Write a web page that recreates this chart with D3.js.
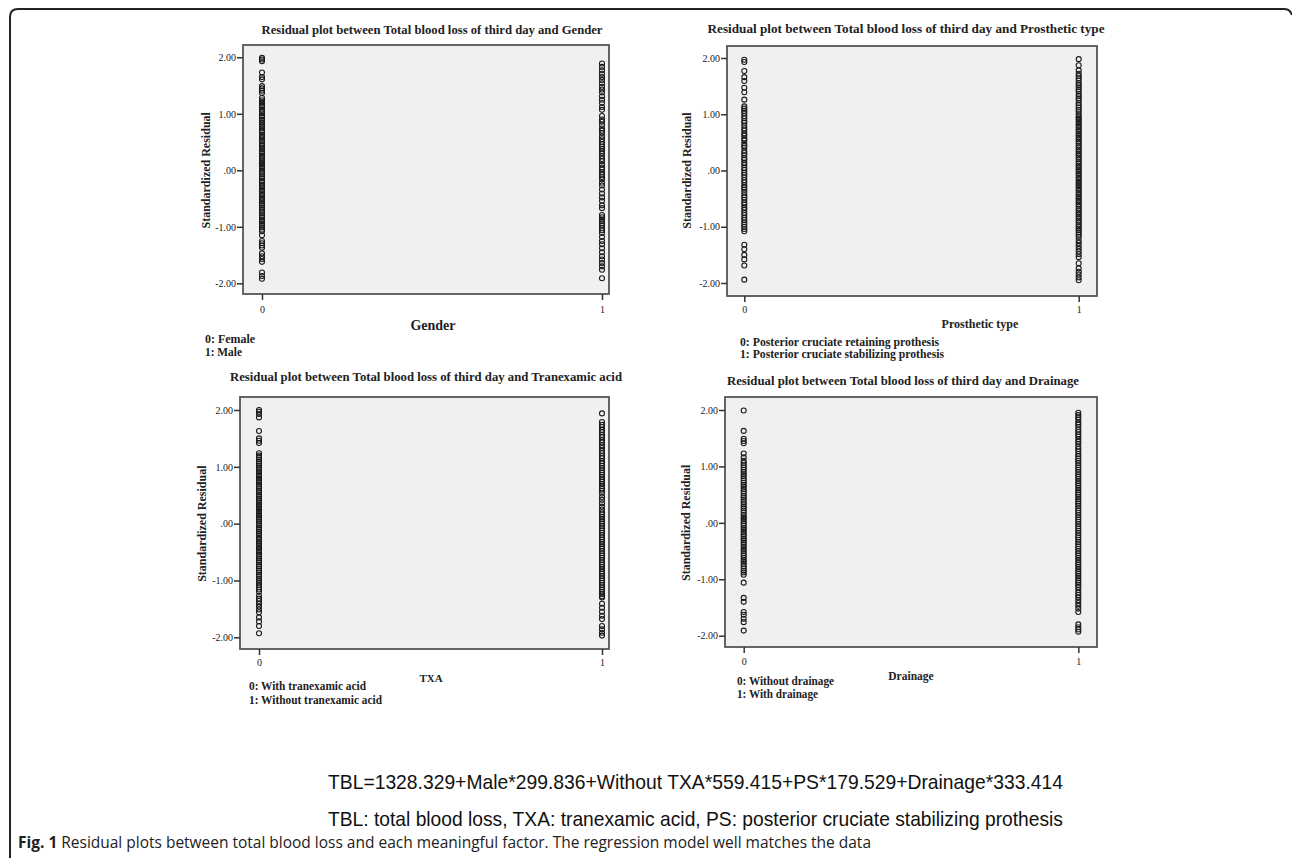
<!DOCTYPE html>
<html>
<head>
<meta charset="utf-8">
<script src="https://cdn.jsdelivr.net/npm/d3@7"></script>
<style>
  body { margin: 0; background: #fff; }
  svg { display: block; }
</style>
</head>
<body>
<svg id="fig" width="1292" height="858"></svg>
<script>
//---------------- data ----------------//

const factors = ["Gender", "Prosthetic type", "TXA", "Drainage"];
const titles = [
  "Residual plot between Total blood loss of third day and Gender",
  "Residual plot between Total blood loss of third day and Prosthetic type",
  "Residual plot between Total blood loss of third day and Tranexamic acid",
  "Residual plot between Total blood loss of third day and Drainage"
];
const legend0 = ["0: Female", "0: Posterior cruciate retaining prothesis", "0: With tranexamic acid", "0: Without drainage"];
const legend1 = ["1: Male", "1: Posterior cruciate stabilizing prothesis", "1: Without tranexamic acid", "1: With drainage"];

const yTicks = [-2, -1, 0, 1, 2];
const yTickLabels = ["-2.00", "-1.00", ".00", "1.00", "2.00"];
const xTicks = [0, 1];
const xTickLabels = ["0", "1"];

// standardized residuals, group 0 / group 1 of each factor
const female = [1.99, 1.96, 1.93, 1.73, 1.65, 1.61, 1.49, 1.45, 1.41, 1.37, 1.28, 1.24, 1.21, 1.18, 1.14, 1.12, 1.07, 1.04, 1.01, 0.97,
  0.95, 0.9, 0.88, 0.84, 0.8, 0.77, 0.74, 0.7, 0.68, 0.63, 0.6, 0.57, 0.53, 0.51, 0.46, 0.43, 0.4, 0.37, 0.33, 0.3, 0.26, 0.24,
  0.2, 0.16, 0.13, 0.1, 0.06, 0.03, -0.01, -0.04, -0.07, -0.11, -0.14, -0.18, -0.2, -0.25, -0.28, -0.31, -0.35, -0.38, -0.42,
  -0.45, -0.49, -0.52, -0.55, -0.59, -0.62, -0.66, -0.7, -0.73, -0.76, -0.8, -0.83, -0.87, -0.9, -0.94, -0.97, -1.01, -1.05,
  -1.08, -1.15, -1.25, -1.29, -1.33, -1.37, -1.47, -1.52, -1.57, -1.62, -1.81, -1.87, -1.92];
const male = [1.89, 1.83, 1.77, 1.71, 1.65, 1.6, 1.54, 1.48, 1.43, 1.38, 1.31, 1.25, 1.19, 1.12, 1.07, 0.96, 0.9, 0.86, 0.8, 0.74,
  0.7, 0.66, 0.6, 0.55, 0.5, 0.46, 0.42, 0.38, 0.34, 0.3, 0.25, 0.2, 0.16, 0.1, 0.05, 0.02, -0.03, -0.08, -0.12, -0.16, -0.22,
  -0.27, -0.34, -0.41, -0.48, -0.54, -0.62, -0.67, -0.79, -0.83, -0.87, -0.9, -0.94, -0.98, -1.02, -1.06, -1.11, -1.18, -1.25,
  -1.31, -1.38, -1.45, -1.52, -1.58, -1.64, -1.7, -1.76, -1.91];

const pcr = [1.97, 1.93, 1.77, 1.66, 1.59, 1.47, 1.39, 1.26, 1.14, 1.1, 1.06, 1.02, 0.97, 0.93, 0.88, 0.85, 0.8, 0.75, 0.71, 0.66,
  0.62, 0.57, 0.54, 0.48, 0.44, 0.41, 0.35, 0.31, 0.27, 0.22, 0.19, 0.14, 0.1, 0.05, 0.01, -0.04, -0.08, -0.12, -0.17, -0.21,
  -0.26, -0.3, -0.34, -0.39, -0.44, -0.48, -0.52, -0.57, -0.61, -0.66, -0.7, -0.75, -0.79, -0.84, -0.88, -0.92, -0.96, -1.0,
  -1.04, -1.08, -1.32, -1.4, -1.5, -1.58, -1.69, -1.94];
const ps = [1.98, 1.87, 1.78, 1.72, 1.68, 1.64, 1.6, 1.55, 1.52, 1.48, 1.44, 1.41, 1.36, 1.32, 1.28, 1.25, 1.2, 1.16, 1.12, 1.08,
  1.05, 1.0, 0.96, 0.93, 0.9, 0.86, 0.83, 0.79, 0.76, 0.72, 0.69, 0.65, 0.62, 0.58, 0.55, 0.51, 0.48, 0.44, 0.41, 0.37, 0.34,
  0.3, 0.27, 0.23, 0.2, 0.16, 0.13, 0.09, 0.06, 0.02, -0.01, -0.05, -0.08, -0.12, -0.15, -0.19, -0.22, -0.26, -0.29, -0.33,
  -0.36, -0.4, -0.43, -0.47, -0.5, -0.54, -0.57, -0.61, -0.64, -0.68, -0.71, -0.75, -0.78, -0.82, -0.85, -0.89, -0.92, -0.96,
  -0.99, -1.03, -1.06, -1.1, -1.14, -1.18, -1.24, -1.29, -1.34, -1.39, -1.44, -1.49, -1.54, -1.65, -1.74, -1.8, -1.85, -1.9, -1.95];

const withTxa = [2.0, 1.97, 1.93, 1.87, 1.63, 1.5, 1.46, 1.42, 1.24, 1.2, 1.17, 1.13, 1.09, 1.06, 1.02, 0.98, 0.95, 0.91, 0.87, 0.84,
  0.8, 0.77, 0.73, 0.69, 0.66, 0.62, 0.58, 0.55, 0.51, 0.48, 0.44, 0.4, 0.37, 0.33, 0.29, 0.26, 0.22, 0.19, 0.15, 0.11, 0.08,
  0.04, 0.0, -0.03, -0.07, -0.1, -0.14, -0.18, -0.21, -0.25, -0.28, -0.32, -0.36, -0.39, -0.43, -0.47, -0.5, -0.54, -0.57, -0.61,
  -0.65, -0.68, -0.72, -0.75, -0.79, -0.83, -0.86, -0.9, -0.93, -0.97, -1.01, -1.04, -1.08, -1.12, -1.16, -1.2, -1.27, -1.32,
  -1.36, -1.41, -1.46, -1.51, -1.56, -1.65, -1.72, -1.8, -1.93];
const withoutTxa = [1.94, 1.79, 1.74, 1.7, 1.65, 1.61, 1.56, 1.52, 1.47, 1.43, 1.38, 1.33, 1.28, 1.24, 1.19, 1.15, 1.1, 1.06, 1.02,
  0.98, 0.94, 0.9, 0.86, 0.82, 0.78, 0.74, 0.7, 0.66, 0.62, 0.58, 0.53, 0.47, 0.42, 0.36, 0.3, 0.25, 0.2, 0.16, 0.12, 0.08, 0.04,
  0.0, -0.04, -0.08, -0.12, -0.16, -0.2, -0.24, -0.28, -0.32, -0.36, -0.4, -0.44, -0.48, -0.52, -0.56, -0.6, -0.64, -0.68, -0.72,
  -0.76, -0.8, -0.84, -0.88, -0.92, -0.96, -1.0, -1.04, -1.08, -1.12, -1.16, -1.2, -1.24, -1.28, -1.3, -1.41, -1.48, -1.55,
  -1.62, -1.68, -1.8, -1.86, -1.92, -1.97];

const noDrain = [1.99, 1.63, 1.49, 1.45, 1.41, 1.23, 1.16, 1.1, 1.06, 1.02, 0.98, 0.94, 0.9, 0.86, 0.83, 0.79, 0.75, 0.71, 0.67, 0.64,
  0.6, 0.56, 0.52, 0.48, 0.45, 0.41, 0.37, 0.33, 0.29, 0.26, 0.22, 0.18, 0.14, 0.1, 0.07, 0.03, -0.01, -0.05, -0.09, -0.12, -0.16,
  -0.2, -0.24, -0.28, -0.31, -0.35, -0.39, -0.43, -0.47, -0.5, -0.54, -0.58, -0.62, -0.66, -0.69, -0.73, -0.77, -0.81, -0.85,
  -0.88, -0.92, -1.06, -1.33, -1.4, -1.58, -1.63, -1.7, -1.76, -1.91];
const withDrain = [1.95, 1.91, 1.87, 1.83, 1.78, 1.74, 1.7, 1.65, 1.61, 1.57, 1.53, 1.48, 1.44, 1.4, 1.35, 1.31, 1.27, 1.22, 1.18,
  1.14, 1.1, 1.06, 1.02, 0.98, 0.94, 0.9, 0.86, 0.82, 0.78, 0.74, 0.7, 0.66, 0.62, 0.58, 0.54, 0.5, 0.46, 0.42, 0.38, 0.34, 0.3,
  0.26, 0.22, 0.18, 0.14, 0.1, 0.06, 0.02, -0.02, -0.06, -0.1, -0.14, -0.18, -0.22, -0.26, -0.3, -0.34, -0.38, -0.42, -0.46, -0.5,
  -0.54, -0.58, -0.62, -0.66, -0.7, -0.74, -0.78, -0.82, -0.86, -0.9, -0.94, -0.98, -1.02, -1.06, -1.1, -1.14, -1.19, -1.24,
  -1.28, -1.32, -1.37, -1.42, -1.47, -1.52, -1.58, -1.8, -1.85, -1.89, -1.93];

const groups = [[female, male], [pcr, ps], [withTxa, withoutTxa], [noDrain, withDrain]];

const equation = "TBL=1328.329+Male*299.836+Without TXA*559.415+PS*179.529+Drainage*333.414";
const abbrev = "TBL: total blood loss, TXA: tranexamic acid, PS: posterior cruciate stabilizing prothesis";
const figLabel = "Fig. 1";
const figText = " Residual plots between total blood loss and each meaningful factor. The regression model well matches the data";

//---------------- layout (pixels) ----------------//

const layout = [
  { box: [243, 45, 609, 294], x: [262, 602], y: [283.3, 57.3], title: [432, 34, 341], yLab: 207,
    tickY: 311, xTitle: [433, 330, 14], leg: [205, 343, 356, 50, 37] },
  { box: [727, 46, 1097, 296], x: [744.3, 1078.7], y: [283, 58], title: [906, 33, 397], yLab: 688,
    tickY: 311, xTitle: [980, 328, 12], leg: [740, 346, 358, 199, 204] },
  { box: [240, 397, 609, 649], x: [259, 602], y: [637.3, 410], title: [426, 381, 392], yLab: 203,
    tickY: 664, xTitle: [431, 682, 11], leg: [249, 690, 704, 117, 133] },
  { box: [725, 397, 1097, 647], x: [743.7, 1078.3], y: [635.7, 410], title: [903, 385, 352], yLab: 687,
    tickY: 663, xTitle: [911, 680, 11.5], leg: [737, 685, 698, 97, 81] }
];

const svg = d3.select("#fig");
const serif = "'Liberation Serif', 'Times New Roman', serif";

// outer frame of the figure (top + left with rounded corners)
svg.append("path")
  .attr("d", "M10,858 L10,17 Q10,9 18,9 L1284,9 Q1290,9 1292,15")
  .attr("fill", "none")
  .attr("stroke", "#222")
  .attr("stroke-width", 2);

const drawPanel = (i) => {
  const L = layout[i];
  const [x0, y0, x1, y1] = L.box;
  const g = svg.append("g");

  const x = d3.scaleLinear().domain(xTicks).range(L.x);
  const y = d3.scaleLinear().domain([-2, 2]).range(L.y);

  g.append("rect")
    .attr("x", x0).attr("y", y0)
    .attr("width", x1 - x0).attr("height", y1 - y0)
    .attr("fill", "#f0f0f0")
    .attr("stroke", "#555")
    .attr("stroke-width", 1.8);

  // y axis
  const ya = g.append("g")
    .attr("transform", `translate(${x0},0)`)
    .call(d3.axisLeft(y).tickValues(yTicks).tickSize(6).tickPadding(1)
      .tickFormat((d, k) => yTickLabels[k]));
  ya.select(".domain").remove();
  ya.selectAll("line").attr("stroke", "#333").attr("stroke-width", 1.5);
  ya.selectAll("text").attr("font-family", serif).attr("font-size", 10).attr("fill", "#222");

  // x axis
  const xa = g.append("g")
    .attr("transform", `translate(0,${y1})`)
    .call(d3.axisBottom(x).tickValues(xTicks).tickSize(6).tickFormat((d, k) => xTickLabels[k]));
  xa.select(".domain").remove();
  xa.selectAll("line").attr("stroke", "#333").attr("stroke-width", 1.5);
  xa.selectAll("text").attr("font-family", serif).attr("font-size", 10).attr("fill", "#222")
    .attr("y", null).attr("dy", null)
    .attr("transform", `translate(0,${L.tickY - y1})`)
    .attr("dominant-baseline", "middle");

  // points
  groups[i].forEach((vals, k) => {
    g.append("g").selectAll("circle")
      .data(vals)
      .join("circle")
      .attr("cx", x(xTicks[k]))
      .attr("cy", d => y(d))
      .attr("r", 2.5)
      .attr("fill", "none")
      .attr("stroke", "#1a1a1a")
      .attr("stroke-width", 1.1);
  });

  // title
  g.append("text")
    .attr("x", L.title[0]).attr("y", L.title[1])
    .attr("text-anchor", "middle")
    .attr("font-family", serif).attr("font-weight", "bold").attr("font-size", 12.5)
    .attr("fill", "#222")
    .attr("textLength", L.title[2]).attr("lengthAdjust", "spacingAndGlyphs")
    .text(titles[i]);

  // y title
  g.append("text")
    .attr("transform", `translate(${L.yLab},${y(0)}) rotate(-90)`)
    .attr("text-anchor", "middle")
    .attr("dominant-baseline", "middle")
    .attr("font-family", serif).attr("font-weight", "bold").attr("font-size", 12)
    .attr("fill", "#222")
    .text("Standardized Residual");

  // x title
  g.append("text")
    .attr("x", L.xTitle[0]).attr("y", L.xTitle[1])
    .attr("text-anchor", "middle")
    .attr("font-family", serif).attr("font-weight", "bold").attr("font-size", L.xTitle[2])
    .attr("fill", "#222")
    .text(factors[i]);

  // code legend
  [legend0[i], legend1[i]].forEach((t, k) => {
    g.append("text")
      .attr("x", L.leg[0]).attr("y", L.leg[1 + k])
      .attr("font-family", serif).attr("font-weight", "bold").attr("font-size", 11.5)
      .attr("fill", "#222")
      .attr("textLength", L.leg[3 + k]).attr("lengthAdjust", "spacingAndGlyphs")
      .text(t);
  });
};

factors.forEach((f, i) => drawPanel(i));

// equation and caption
svg.append("text")
  .attr("x", 328).attr("y", 789)
  .attr("font-family", "'Liberation Sans', Arial, sans-serif").attr("font-size", 21)
  .attr("fill", "#111")
  .attr("textLength", 735).attr("lengthAdjust", "spacingAndGlyphs")
  .text(equation);

svg.append("text")
  .attr("x", 328).attr("y", 826)
  .attr("font-family", "'Liberation Sans', Arial, sans-serif").attr("font-size", 21)
  .attr("fill", "#111")
  .attr("textLength", 735).attr("lengthAdjust", "spacingAndGlyphs")
  .text(abbrev);

const cap = svg.append("text")
  .attr("x", 18).attr("y", 848)
  .attr("font-family", "'Open Sans', 'Noto Sans', sans-serif").attr("font-size", 16)
  .attr("fill", "#222")
  .attr("textLength", 853).attr("lengthAdjust", "spacingAndGlyphs");
cap.append("tspan").attr("font-weight", "bold").text(figLabel);
cap.append("tspan").text(figText);
</script>
</body>
</html>
